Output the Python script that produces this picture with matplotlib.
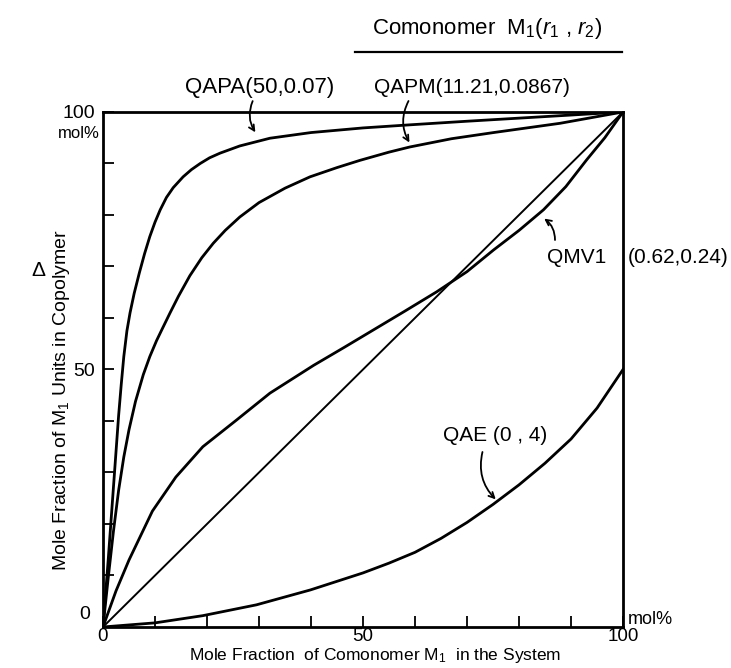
import numpy as np
import matplotlib
matplotlib.use("Agg")
import matplotlib.pyplot as plt

plt.rcParams['font.family'] = ['Liberation Sans', 'DejaVu Sans']
plt.rcParams['mathtext.fontset'] = 'custom'
plt.rcParams['mathtext.rm'] = 'Liberation Sans'
plt.rcParams['mathtext.it'] = 'Liberation Sans:italic'

# monomer feed (mol%) -> copolymer composition (mol%)
f_qapa = [0, 1, 2, 2.5, 3, 3.5, 4, 4.6, 5.2, 6, 7, 8, 9, 10, 11, 12.2, 13.5, 15.4, 17, 18.7,
          20.5, 22.5, 26.3, 32.1, 40, 50, 59, 70, 80, 90, 100]
F_qapa = [0, 13, 27, 34, 41, 47, 52.5, 57.5, 61, 64.8, 68.8, 72.5, 75.8, 78.6, 81, 83.4, 85.3, 87.4, 88.8, 90.0,
          91.1, 92.0, 93.4, 94.9, 96.0, 96.9, 97.5, 98.2, 98.8, 99.4, 100]

f_qapm = [0, 1, 2, 3, 4, 5, 6.25, 7.75, 9, 10.3, 11.4, 12.9, 14.5, 16.7, 19, 21.2, 23.5, 26.3,
          30, 35, 39.8, 45, 49.4, 55, 59, 67, 75.1, 87.9, 100]
F_qapm = [0, 9.5, 18.5, 26.5, 33, 38.3, 43.8, 49, 52.5, 55.6, 57.9, 61, 64.2, 68.2, 71.7, 74.5, 77, 79.6,
          82.4, 85.2, 87.4, 89.2, 90.6, 92.2, 93.2, 94.8, 96.0, 97.8, 100]

f_qmv1 = [0, 2.5, 5.0, 9.5, 14.0, 19.2, 25.7, 32.1, 40.5, 46.4, 52.2, 58, 64.2, 70, 75.1, 80, 84.7, 89, 93, 96.5, 100]
F_qmv1 = [0, 7, 13, 22.5, 29.1, 35, 40.2, 45.4, 50.8, 54.3, 57.8, 61.3, 65.1, 69, 73.2, 77, 81, 85.5, 90.7, 95, 100]

f_qae = [0, 10, 19.2, 29.5, 39.9, 50, 55, 60, 65, 70, 75, 80, 85, 90, 95, 100]
F_qae = [0, 0.8, 2.2, 4.3, 7.2, 10.5, 12.4, 14.5, 17.2, 20.3, 23.8, 27.6, 31.8, 36.5, 42.5, 50]

ideal = [0, 100]

tick_pos = list(range(0, 101, 10))
x_lab = ['0', '', '', '', '', '50', '', '', '', '', '100']
y_lab = ['', '', '', '', '', '50', '', '', '', '', '100']

fig = plt.figure(figsize=(7.31, 6.68), dpi=100)
ax = fig.add_axes([0.1409, 0.0614, 0.7114, 0.7710])

lw = 2.0
for xs, ys in [(f_qapa, F_qapa), (f_qapm, F_qapm), (f_qmv1, F_qmv1), (f_qae, F_qae)]:
    ax.plot(xs, ys, color='k', lw=lw, solid_joinstyle='round')
ax.plot(ideal, ideal, color='k', lw=1.4)

ax.set_xlim(0, 100)
ax.set_ylim(0, 100)
ax.set_xticks(tick_pos)
ax.set_yticks(tick_pos)
ax.set_xticklabels(x_lab, fontsize=13.5)
ax.set_yticklabels(y_lab, fontsize=14)
ax.tick_params(direction='in', length=8, width=1.3)
ax.tick_params(axis='x', pad=1)
ax.tick_params(axis='y', pad=6)
for s in ax.spines.values():
    s.set_linewidth(2.0)

ax.set_xlabel(r'Mole Fraction  of Comonomer M$_\mathrm{1}$  in the System', fontsize=12.5)
ax.xaxis.label.set_va('center')
ax.xaxis.set_label_coords(0.523, -0.056)
ax.set_ylabel(r'Mole Fraction of M$_\mathrm{1}$ Units in Copolymer', fontsize=14)
ax.yaxis.set_label_coords(-0.06, 0.44)

ax.text(-2.5, 2.5, '0', fontsize=14, ha='right', va='center')
ax.text(-0.6, 95.9, 'mol%', fontsize=12, ha='right', va='center')
ax.text(101, 1.5, 'mol%', fontsize=13, ha='left', va='center')
ax.text(-12.5, 69.3, 'Δ', fontsize=15, ha='center', va='center')

# curve labels
arrow = dict(arrowstyle='->', lw=1.3, color='k', connectionstyle='arc3,rad=0.3')
ax.annotate('', xy=(29.6, 95.6), xytext=(29, 102.6), annotation_clip=False, arrowprops=arrow)
ax.text(30.2, 104.8, 'QAPA(50,0.07)', fontsize=16, ha='center', va='center')
ax.annotate('', xy=(59.2, 93.6), xytext=(59, 102.6), annotation_clip=False, arrowprops=arrow)
ax.text(71, 104.8, 'QAPM(11.21,0.0867)', fontsize=15, ha='center', va='center')

ax.annotate('', xy=(84.4, 79.6), xytext=(86.9, 74.6), arrowprops=arrow)
ax.text(85.4, 71.8, 'QMV1', fontsize=15, ha='left', va='center')
ax.text(101, 71.8, '(0.62,0.24)', fontsize=15, ha='left', va='center')

ax.annotate('', xy=(75.9, 24.4), xytext=(73.1, 34.5), arrowprops=arrow)
ax.text(65.4, 37.2, 'QAE (0 , 4)', fontsize=15, ha='left', va='center')

# header
fig.text(0.666, 0.957, r'Comonomer  M$_\mathrm{1}$($r_\mathrm{1}$ , $r_\mathrm{2}$)', fontsize=16, ha='center', va='center')
fig.add_artist(plt.Line2D([0.486, 0.851], [0.922, 0.922], color='k', lw=1.6))

fig.savefig('out.png', dpi=100)
